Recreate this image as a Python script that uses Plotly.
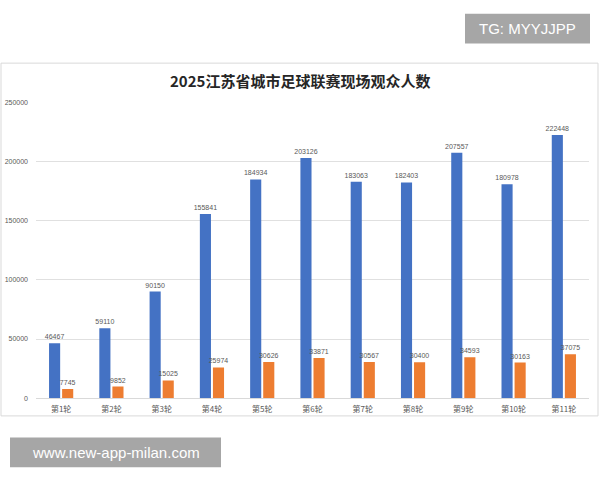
import plotly.graph_objects as go

categories = ["第1轮", "第2轮", "第3轮", "第4轮", "第5轮", "第6轮", "第7轮", "第8轮", "第9轮", "第10轮", "第11轮"]
blue_values = [46467, 59110, 90150, 155841, 184934, 203126, 183063, 182403, 207557, 180978, 222448]
orange_values = [7745, 9852, 15025, 25974, 30626, 33871, 30567, 30400, 34593, 30163, 37075]
y_ticks = [0, 50000, 100000, 150000, 200000, 250000]

W, H = 600, 480
def py(y):
    return 1 - y / H

fig = go.Figure()
fig.add_trace(go.Bar(
    x=categories, y=blue_values, name="A", marker=dict(color="#4472C4", line=dict(width=0)),
    text=[str(v) for v in blue_values], textposition="outside", cliponaxis=False,
    constraintext="none",
    textfont=dict(size=7, color="#595959", family="Liberation Sans"),
))
fig.add_trace(go.Bar(
    x=categories, y=orange_values, name="B", marker=dict(color="#ED7D31", line=dict(width=0)),
    text=[str(v) for v in orange_values], textposition="outside", cliponaxis=False,
    constraintext="none",
    textfont=dict(size=7, color="#595959", family="Liberation Sans"),
))

fig.update_layout(
    width=W, height=H, margin=dict(l=0, r=0, t=0, b=0),
    paper_bgcolor="white", plot_bgcolor="white",
    showlegend=False, barmode="group", bargap=0.48, bargroupgap=0.15,
    hovermode=False, uniformtext=dict(mode=False),
    xaxis=dict(domain=[36 / W, 589 / W], showgrid=False, showline=True, linecolor="#d9d9d9",
               linewidth=1, ticks="", tickfont=dict(size=8, color="#595959", family="Noto Sans CJK SC"),
               ticklabelstandoff=3),
    yaxis=dict(domain=[py(400), py(100)], range=[0, 250000], tickvals=y_ticks,
               ticktext=[str(v) for v in y_ticks], showgrid=True, gridcolor="#e0e0e0", gridwidth=1,
               zeroline=False, showline=False, ticks="",
               tickfont=dict(size=7, color="#595959", family="Liberation Sans"),
               ticklabelstandoff=7),
    font=dict(family="Noto Sans CJK SC"),
)

# card border
fig.add_shape(type="rect", xref="paper", yref="paper", x0=1 / W, x1=598 / W, y0=py(418), y1=py(60),
              line=dict(color="#d9d9d9", width=1), fillcolor="rgba(0,0,0,0)", layer="below")

# title
fig.add_annotation(text="<b>2025江苏省城市足球联赛现场观众人数</b>", xref="paper", yref="paper",
                   x=0.5, y=py(78), showarrow=False, xanchor="center", yanchor="middle",
                   font=dict(size=15, color="#262626", family="Noto Sans CJK SC"))

# watermark boxes
fig.add_shape(type="rect", xref="paper", yref="paper", x0=465 / W, x1=590 / W, y0=py(40), y1=py(10),
              line=dict(width=0), fillcolor="#a6a6a6")
fig.add_annotation(text="TG: MYYJJPP", xref="paper", yref="paper", x=527.5 / W, y=py(25),
                   showarrow=False, xanchor="center", yanchor="middle",
                   font=dict(size=15, color="white", family="Liberation Sans"))
fig.add_shape(type="rect", xref="paper", yref="paper", x0=10 / W, x1=221 / W, y0=py(470), y1=py(440),
              line=dict(width=0), fillcolor="#a6a6a6")
fig.add_annotation(text="www.new-app-milan.com", xref="paper", yref="paper", x=115.5 / W, y=py(455),
                   showarrow=False, xanchor="center", yanchor="middle",
                   font=dict(size=15, color="white", family="Liberation Sans"))

fig.write_html("out.html")
